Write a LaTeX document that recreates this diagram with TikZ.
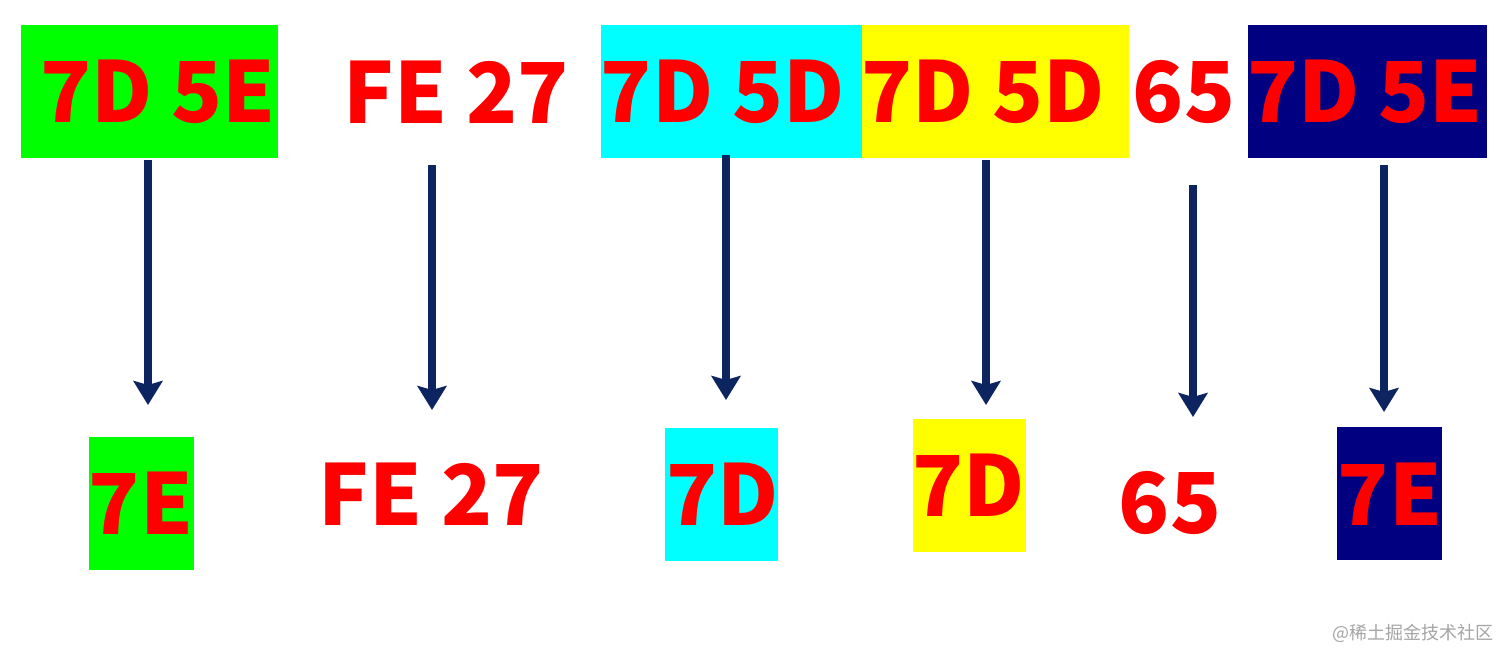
\documentclass[tikz,border=0pt]{standalone}
\usepackage{fontspec}
\newfontfamily\hexfont{Noto Sans CJK SC}
\newfontfamily\cjkfont{Noto Sans CJK SC}
\usetikzlibrary{arrows.meta}
\definecolor{hexred}{RGB}{255,0,0}
\definecolor{bgreen}{RGB}{0,255,0}
\definecolor{bcyan}{RGB}{0,255,255}
\definecolor{byellow}{RGB}{255,255,0}
\definecolor{bnavy}{RGB}{0,0,128}
\definecolor{arrowblue}{RGB}{12,36,96}
\definecolor{wmgray}{RGB}{165,165,165}
\tikzset{
  hexbox/.style={rectangle, inner sep=0pt, draw=none},
  hextext/.style={inner sep=0pt, text=hexred, font=\hexfont\bfseries\fontsize{84}{84}\selectfont},
  convarrow/.style={draw=arrowblue, line width=7.5pt, -{Stealth[length=24pt,width=29pt,inset=4pt]}},
}
\begin{document}
\begin{tikzpicture}[x=1pt,y=-1pt]
\useasboundingbox[fill=white] (0,0) rectangle (1512,662);
% top row boxes
\node[hexbox, fill=bgreen, minimum width=257pt, minimum height=133pt] (g1) at (149.5,91.5) {};
\node[hexbox, fill=bcyan, minimum width=261pt, minimum height=133pt] (c1) at (731.5,91.5) {};
\node[hexbox, fill=byellow, minimum width=267pt, minimum height=133pt] (y1) at (995.5,91.5) {};
\node[hexbox, fill=bnavy, minimum width=239pt, minimum height=133pt] (n1) at (1367.5,91.5) {};
% top row texts
\node[hextext] (tg1) at (158,92) {7D 5E};
\node[hextext] (tf1) at (456,92) {FE 27};
\node[hextext] (tc1) at (723,92) {7D 5D};
\node[hextext] (ty1) at (983,92) {7D 5D};
\node[hextext] (t651) at (1184,92) {65};
\node[hextext] (tn1) at (1365,92) {7D 5E};
% bottom row boxes
\node[hexbox, fill=bgreen, minimum width=105pt, minimum height=133pt] (g2) at (141.5,503.5) {};
\node[hexbox, fill=bcyan, minimum width=113pt, minimum height=133pt] (c2) at (721.5,494.5) {};
\node[hexbox, fill=byellow, minimum width=113pt, minimum height=133pt] (y2) at (969.5,485.5) {};
\node[hexbox, fill=bnavy, minimum width=105pt, minimum height=133pt] (n2) at (1389,493.5) {};
% bottom row texts
\node[hextext] (tg2) at (141,503) {7E};
\node[hextext] (tf2) at (431,494) {FE 27};
\node[hextext] (tc2) at (723,494) {7D};
\node[hextext] (ty2) at (969,485) {7D};
\node[hextext] (t652) at (1170,503) {65};
\node[hextext] (tn2) at (1390,494) {7E};
% arrow end points
\coordinate (a1s) at (148,160);  \coordinate (a1e) at (148,405);
\coordinate (a2s) at (432,165);  \coordinate (a2e) at (432,410);
\coordinate (a3s) at (726,155);  \coordinate (a3e) at (726,400);
\coordinate (a4s) at (986,160);  \coordinate (a4e) at (986,405);
\coordinate (a5s) at (1193,185); \coordinate (a5e) at (1193,417);
\coordinate (a6s) at (1384,165); \coordinate (a6e) at (1384,412);
\draw[convarrow] (a1s) -- (a1e);
\draw[convarrow] (a2s) -- (a2e);
\draw[convarrow] (a3s) -- (a3e);
\draw[convarrow] (a4s) -- (a4e);
\draw[convarrow] (a5s) -- (a5e);
\draw[convarrow] (a6s) -- (a6e);
% watermark
\node[inner sep=0pt, text=wmgray, font=\cjkfont\fontsize{18}{18}\selectfont] (wm) at (1413,633) {@稀土掘金技术社区};
\end{tikzpicture}
\end{document}
